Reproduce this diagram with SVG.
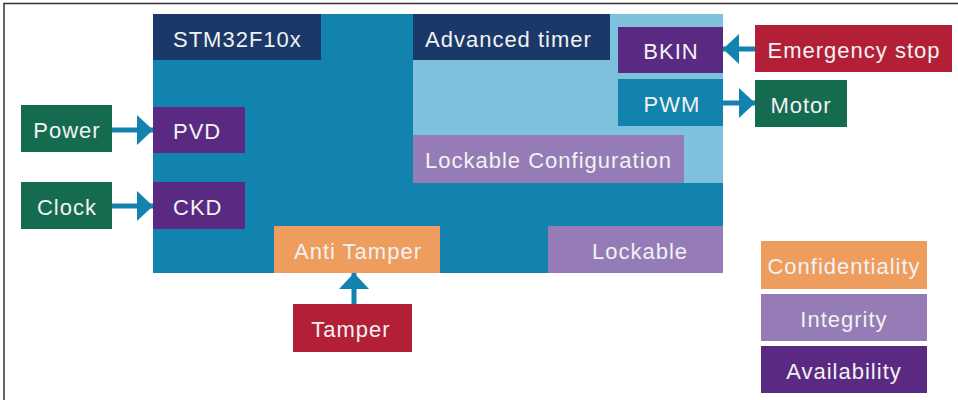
<svg xmlns="http://www.w3.org/2000/svg" width="958" height="400" viewBox="0 0 958 400">
<defs>
<style>
text{font-family:"Liberation Sans",Arial,sans-serif;font-size:22px;fill:#f2f2f2;letter-spacing:1px}
.c{text-anchor:middle}
.navy{fill:#1A3968}.purple{fill:#5A2A82}.lpurple{fill:#957CB6}.orange{fill:#EE9D5F}.red{fill:#B41F38}.green{fill:#146B4F}.blue{fill:#1283AE}.lblue{fill:#7DC1DC}
.conn line{stroke:#1283AE;stroke-width:5;marker-end:url(#ah)}
</style>
<marker id="ah" markerUnits="userSpaceOnUse" markerWidth="16" markerHeight="30" refX="16" refY="15" orient="auto"><path d="M0,0 L16,15 L0,30 Z" fill="#1283AE"/></marker>
</defs>
<rect width="958" height="400" fill="#fff"/>
<rect x="4" y="3.5" width="1200" height="1200" fill="none" stroke="#333" stroke-width="1.5"/>
<g id="chip">
<rect class="blue" x="153" y="14" width="570" height="259"/>
<rect class="lblue" x="413" y="14" width="310" height="169"/>
</g>
<g id="stm32"><rect class="navy" x="153" y="14" width="168" height="46"/><text x="173" y="47">STM32F10x</text></g>
<g id="advtimer"><rect class="navy" x="413" y="14" width="197" height="46"/><text x="425" y="47">Advanced timer</text></g>
<g id="bkin"><rect class="purple" x="618" y="27" width="105" height="46"/><text class="c" x="671" y="59">BKIN</text></g>
<g id="pwm"><rect class="blue" x="618" y="79" width="105" height="47"/><text class="c" x="672" y="112">PWM</text></g>
<g id="lockcfg"><rect class="lpurple" x="413" y="135" width="271" height="48"/><text x="425" y="168">Lockable Configuration</text></g>
<g id="pvd"><rect class="purple" x="153" y="107" width="92" height="46"/><text x="173" y="139">PVD</text></g>
<g id="ckd"><rect class="purple" x="153" y="182" width="92" height="47"/><text x="173" y="215">CKD</text></g>
<g id="antitamper"><rect class="orange" x="274" y="226" width="166" height="47"/><text class="c" x="358" y="259">Anti Tamper</text></g>
<g id="lockable"><rect class="lpurple" x="548" y="226" width="175" height="47"/><text class="c" x="640" y="259">Lockable</text></g>
<g id="power"><rect class="green" x="21" y="105" width="91" height="47"/><text class="c" x="67" y="138">Power</text></g>
<g id="clock"><rect class="green" x="21" y="182" width="91" height="47"/><text class="c" x="67" y="215">Clock</text></g>
<g id="estop"><rect class="red" x="755" y="25" width="197" height="47"/><text class="c" x="854" y="58">Emergency stop</text></g>
<g id="motor"><rect class="green" x="755" y="80" width="92" height="47"/><text class="c" x="801" y="113">Motor</text></g>
<g id="tamper"><rect class="red" x="293" y="304" width="119" height="48"/><text class="c" x="351" y="337">Tamper</text></g>
<g id="confidentiality"><rect class="orange" x="761" y="241" width="166" height="48"/><text class="c" x="844" y="274">Confidentiality</text></g>
<g id="integrity"><rect class="lpurple" x="761" y="294" width="166" height="47"/><text class="c" x="844" y="327">Integrity</text></g>
<g id="availability"><rect class="purple" x="761" y="346" width="166" height="47"/><text class="c" x="844" y="379">Availability</text></g>
<g id="connectors" class="conn">
<line x1="112" y1="130" x2="153" y2="130"/>
<line x1="112" y1="206" x2="153" y2="206"/>
<line x1="755" y1="49" x2="723" y2="49"/>
<line x1="723" y1="103" x2="755" y2="103"/>
<line x1="354" y1="304" x2="354" y2="273"/>
</g>
</svg>
